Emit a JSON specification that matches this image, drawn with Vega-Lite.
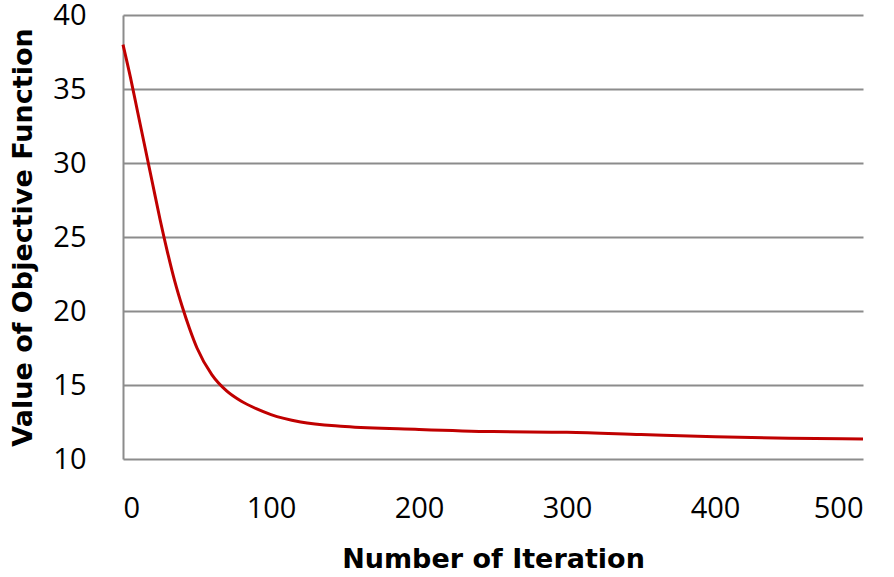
{
  "$schema": "https://vega.github.io/schema/vega-lite/v6.json",
  "width": 740,
  "height": 444,
  "autosize": {"type": "none"},
  "padding": {"left": 123, "top": 15, "right": 31, "bottom": 118},
  "background": "white",
  "config": {"view": {"stroke": null}},
  "data": {"values": [
    {"iter": 0, "value": 38.0},
    {"iter": 5, "value": 35.8},
    {"iter": 10, "value": 33.4},
    {"iter": 15, "value": 31.0},
    {"iter": 20, "value": 28.6},
    {"iter": 25, "value": 26.2},
    {"iter": 30, "value": 24.0},
    {"iter": 35, "value": 22.0},
    {"iter": 40, "value": 20.3},
    {"iter": 45, "value": 18.8},
    {"iter": 50, "value": 17.5},
    {"iter": 60, "value": 15.7},
    {"iter": 70, "value": 14.6},
    {"iter": 80, "value": 13.9},
    {"iter": 90, "value": 13.4},
    {"iter": 100, "value": 13.0},
    {"iter": 120, "value": 12.5},
    {"iter": 150, "value": 12.2},
    {"iter": 200, "value": 12.0},
    {"iter": 250, "value": 11.85},
    {"iter": 300, "value": 11.8},
    {"iter": 350, "value": 11.65},
    {"iter": 400, "value": 11.5},
    {"iter": 450, "value": 11.4},
    {"iter": 500, "value": 11.35}
  ]},
  "mark": {"type": "line", "color": "#c00000", "strokeWidth": 3, "interpolate": "monotone"},
  "encoding": {
    "x": {
      "field": "iter", "type": "quantitative",
      "scale": {"domain": [0, 500], "nice": false},
      "axis": {
        "title": "Number of Iteration",
        "values": [0, 100, 200, 300, 400, 500],
        "grid": false, "domain": false, "ticks": false,
        "labelFont": "Open Sans", "labelFontSize": 29, "labelColor": "#000",
        "labelPadding": 35,
        "titleFont": "DejaVu Sans", "titleFontSize": 27, "titleFontWeight": "bold", "titleColor": "#000",
        "titlePadding": 23
      }
    },
    "y": {
      "field": "value", "type": "quantitative",
      "scale": {"domain": [10, 40], "nice": false, "zero": false},
      "axis": {
        "title": "Value of Objective Function",
        "values": [10, 15, 20, 25, 30, 35, 40],
        "grid": true, "gridColor": "#8c8c8c", "gridWidth": 2, "gridOpacity": 1,
        "domain": true, "domainColor": "#8c8c8c", "domainWidth": 2,
        "ticks": false,
        "labelFont": "Open Sans", "labelFontSize": 29, "labelColor": "#000",
        "labelPadding": 37,
        "titleFont": "DejaVu Sans", "titleFontSize": 27, "titleFontWeight": "bold", "titleColor": "#000",
        "titlePadding": 15
      }
    }
  }
}
